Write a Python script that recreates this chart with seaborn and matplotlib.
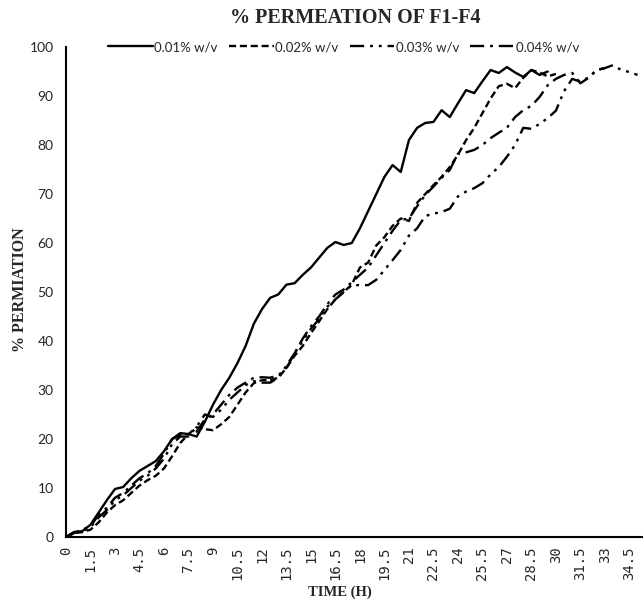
import numpy as np
import pandas as pd
import matplotlib
matplotlib.use("Agg")
import matplotlib.pyplot as plt
import seaborn as sns

# Sampling times (h), every half hour
time_h = [i * 0.5 for i in range(71)]

# % permeation for each concentration
f1_001 = [0, 1, 1.2, 2.5, 5, 7.5, 9.8, 10.2, 12, 13.5, 14.5, 15.5, 17.5, 20, 21.2,
          21, 20.5, 23.5, 27, 30, 32.5, 35.5, 39, 43.5, 46.5, 48.8, 49.5, 51.5, 51.8,
          53.5, 55, 57, 59, 60.2, 59.6, 60, 63, 66.5, 70, 73.5, 75.9, 74.5, 81, 83.5,
          84.5, 84.7, 87.1, 85.7, 88.5, 91.2, 90.6, 93, 95.3, 94.7, 95.9, 94.8, 93.9,
          95.3, 94.3, 95]
f2_002 = [0, 0.8, 1, 1.5, 3, 5, 6.5, 7.5, 9, 10.5, 11.6, 12.5, 14, 16.5, 19.2, 21,
          22.4, 22, 21.8, 23, 24.5, 27, 29.5, 31.4, 32, 32, 32.5, 34.5, 37, 39, 41.6,
          44, 46.5, 48.5, 50, 51.5, 55, 56, 59.5, 61.2, 63.5, 65, 64.5, 68.2, 70, 71.8,
          73.5, 75.5, 78, 81, 83.5, 86.5, 89.5, 92, 92.5, 91.6, 93.7, 95.3, 94.8, 94,
          94.5]
f3_003 = [0, 1, 1.2, 2, 4, 5.5, 7.5, 8.5, 10, 11.5, 12.5, 14, 16, 19, 20.5, 20.5,
          22.5, 25, 24.5, 26, 28, 29.5, 31, 31.8, 31.5, 31.5, 32.5, 35, 37.5, 40, 42.5,
          44.5, 47, 48.5, 50, 51.4, 51.4, 51.4, 52.5, 54.5, 56.5, 58.6, 61.5, 63, 65.5,
          66, 66.3, 67, 69.5, 70.5, 71.2, 72.2, 74, 75.5, 77.6, 80, 83.5, 83.3, 84.3,
          85.5, 87, 91, 93.5, 92.9, 93.8, 95.3, 95.7, 96.3, 95.3, 94.9, 94.3]
f4_004 = [0, 0.8, 1.5, 2.2, 4.5, 6, 8, 9, 10.5, 12, 13, 14.5, 17, 20, 20.8, 21,
          21.5, 24, 25, 27, 29, 30.5, 31.5, 32.5, 32.6, 32.5, 33, 34.5, 37.5, 40.5,
          43, 45, 47.5, 49.5, 50.5, 52, 53.5, 55, 57.5, 60, 62.5, 64.7, 65, 67.5, 69.8,
          71.5, 73.3, 74.9, 78.2, 78.5, 79, 80, 81.4, 82.5, 83.5, 85.7, 87.1, 88, 89.8,
          92.2, 93.5, 94.3, 94.7, 92.6, 93.7, 95.3, 95.7]

series_labels = ["0.01% w/v", "0.02% w/v", "0.03% w/v", "0.04% w/v"]
series_values = [f1_001, f2_002, f3_003, f4_004]

frames = []
for lab, vals in zip(series_labels, series_values):
    frames.append(pd.DataFrame({"time": time_h[:len(vals)], "perm": vals,
                                "conc": lab}))
df = pd.concat(frames, ignore_index=True)

x_tick_vals = [i * 1.5 for i in range(24)]
x_tick_labels = ["0", "1.5", "3", "4.5", "6", "7.5", "9", "10.5", "12", "13.5",
                 "15", "16.5", "18", "19.5", "21", "22.5", "24", "25.5", "27",
                 "28.5", "30", "31.5", "33", "34.5"]
y_tick_vals = list(range(0, 101, 10))

sns.set_theme(style="white")
plt.rcParams["font.family"] = ["DejaVu Sans"]

W, H = 643, 600
fig = plt.figure(figsize=(W / 100, H / 100), dpi=100)
fig.patch.set_facecolor("white")
ax = fig.add_axes([66 / W, (H - 537) / H, (W - 66) / W, (537 - 47) / H])

dash_styles = {
    "0.01% w/v": "",
    "0.02% w/v": (3, 1.6),
    "0.03% w/v": (6, 2.5, 1.2, 2.5, 1.2, 2.5),
    "0.04% w/v": (6, 2.5, 1.2, 2.5),
}
sns.lineplot(data=df, x="time", y="perm", style="conc", dashes=dash_styles,
             color="black", linewidth=1.7, ax=ax, legend=False, sort=False,
             estimator=None)

ax.set_xlim(0, (W - 66) / 16.33)
ax.set_ylim(0, 100)
ax.set_xticks(x_tick_vals)
ax.set_xticklabels(x_tick_labels, rotation=90, fontsize=10, family="DejaVu Sans Mono")
ax.set_yticks(y_tick_vals)
ax.set_yticklabels([str(v) for v in y_tick_vals], fontsize=10, family="Lato")
ax.tick_params(axis="both", length=0)
ax.tick_params(axis="y", pad=9)
ax.tick_params(axis="x", pad=7)
for side in ["top", "right"]:
    ax.spines[side].set_visible(False)
for side in ["left", "bottom"]:
    ax.spines[side].set_color("black")
    ax.spines[side].set_linewidth(1.5)
ax.set_xlabel("")
ax.set_ylabel("")

fig.text(355 / W, 1 - 18 / H, "% PERMEATION OF F1-F4", ha="center", va="center",
         fontsize=14.5, fontweight="bold", family="Liberation Serif")
fig.text(20 / W, 1 - 290 / H, "% PERMIATION", ha="center", va="center",
         rotation=90, fontsize=11.5, fontweight="bold", family="Liberation Serif")
fig.text(340 / W, 1 - 592 / H, "TIME (H)", ha="center", va="center",
         fontsize=10.5, fontweight="bold", family="Liberation Serif")

handles = ax.get_lines()[:4]
leg = fig.legend(handles, series_labels, loc="center", ncol=4,
                 bbox_to_anchor=(344 / W, 1 - 47 / H), frameon=False,
                 prop={"family": "Lato", "size": 9.5}, handlelength=3.4,
                 handletextpad=0.1, columnspacing=0.85)

fig.savefig("out.png", dpi=100, facecolor="white")
